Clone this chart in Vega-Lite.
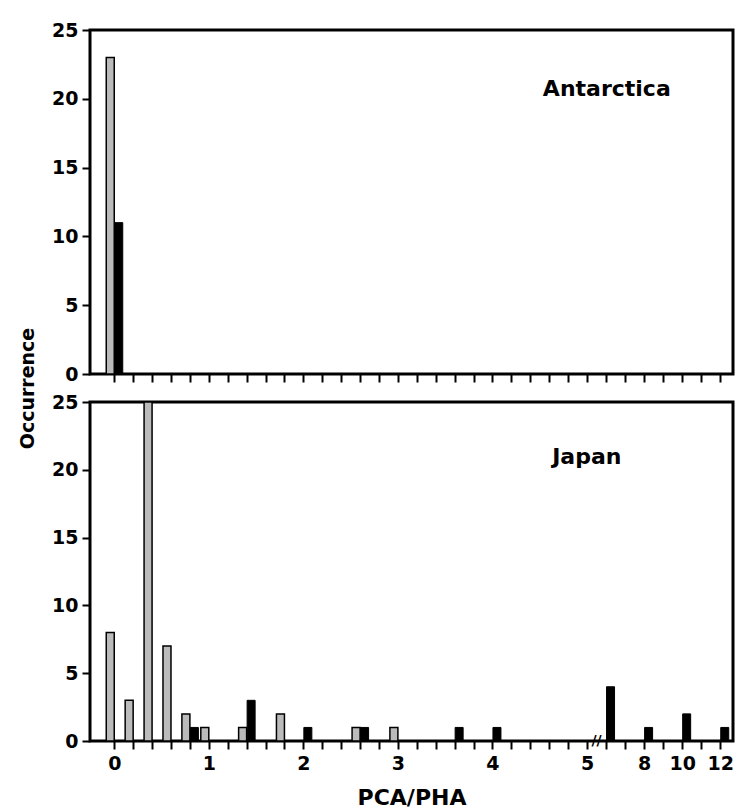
{
  "$schema": "https://vega.github.io/schema/vega-lite/v6.json",
  "background": "white",
  "padding": {"left": 16, "top": 19, "right": 2, "bottom": 0},
  "bounds": "flush",
  "spacing": 28,
  "config": {
    "view": {"stroke": "black", "strokeWidth": 3},
    "axis": {
      "domain": false,
      "grid": false,
      "tickColor": "black",
      "tickWidth": 2,
      "tickSize": 8,
      "labelFont": "DejaVu Sans",
      "labelFontWeight": "bold",
      "labelColor": "black",
      "titleFont": "DejaVu Sans",
      "titleFontWeight": "bold",
      "titleColor": "black"
    }
  },
  "datasets": {
    "bars": [
      {"region": "Antarctica", "type": "open", "ratio": 0, "count": 23},
      {"region": "Antarctica", "type": "solid", "ratio": 0, "count": 11},
      {"region": "Japan", "type": "open", "ratio": 0, "count": 8},
      {"region": "Japan", "type": "open", "ratio": 0.2, "count": 3},
      {"region": "Japan", "type": "open", "ratio": 0.4, "count": 25},
      {"region": "Japan", "type": "open", "ratio": 0.6, "count": 7},
      {"region": "Japan", "type": "open", "ratio": 0.8, "count": 2},
      {"region": "Japan", "type": "open", "ratio": 1.0, "count": 1},
      {"region": "Japan", "type": "open", "ratio": 1.4, "count": 1},
      {"region": "Japan", "type": "open", "ratio": 1.8, "count": 2},
      {"region": "Japan", "type": "open", "ratio": 2.6, "count": 1},
      {"region": "Japan", "type": "open", "ratio": 3.0, "count": 1},
      {"region": "Japan", "type": "solid", "ratio": 0.8, "count": 1},
      {"region": "Japan", "type": "solid", "ratio": 1.4, "count": 3},
      {"region": "Japan", "type": "solid", "ratio": 2.0, "count": 1},
      {"region": "Japan", "type": "solid", "ratio": 2.6, "count": 1},
      {"region": "Japan", "type": "solid", "ratio": 3.6, "count": 1},
      {"region": "Japan", "type": "solid", "ratio": 4.0, "count": 1},
      {"region": "Japan", "type": "solid", "ratio": 6, "count": 4},
      {"region": "Japan", "type": "solid", "ratio": 8, "count": 1},
      {"region": "Japan", "type": "solid", "ratio": 10, "count": 2},
      {"region": "Japan", "type": "solid", "ratio": 12, "count": 1}
    ]
  },
  "vconcat": [
    {
      "width": 643,
      "height": 344,
      "layer": [
        {
          "data": {"name": "bars"},
          "transform": [{"filter": "datum.region === 'Antarctica' && datum.type === 'open'"}],
          "mark": {"type": "bar", "size": 8, "xOffset": -4, "fill": "#bbbbbb", "stroke": "black", "strokeWidth": 1.5},
          "encoding": {
            "x": {
              "field": "ratio", "type": "quantitative",
              "scale": {"domain": [-0.156, 5, 12.57], "range": [0, 497, 643], "zero": false, "nice": false},
              "axis": {
                "values": [0,0.2,0.4,0.6,0.8,1,1.2,1.4,1.6,1.8,2,2.2,2.4,2.6,2.8,3,3.2,3.4,3.6,3.8,4,4.2,4.4,4.6,4.8,5,6,7,8,9,10,11,12],
                "tickCount": 40,
                "labels": false, "title": null
              }
            },
            "y": {
              "field": "count", "type": "quantitative",
              "scale": {"domain": [0, 25], "nice": false},
              "axis": {
                "values": [0, 5, 10, 15, 20, 25],
                "labelFontSize": 19, "labelPadding": 4,
                "title": "Occurrence", "titleFontSize": 19,
                "titleAngle": 270, "titleX": -57, "titleY": 358,
                "titleAlign": "center", "titleBaseline": "alphabetic"
              }
            }
          }
        },
        {
          "data": {"name": "bars"},
          "transform": [{"filter": "datum.region === 'Antarctica' && datum.type === 'solid'"}],
          "mark": {"type": "bar", "size": 8, "xOffset": 4.5, "fill": "black", "stroke": "black", "strokeWidth": 1},
          "encoding": {
            "x": {"field": "ratio", "type": "quantitative"},
            "y": {"field": "count", "type": "quantitative"}
          }
        },
        {
          "data": {"values": [{"label": "Antarctica"}]},
          "mark": {"type": "text", "align": "right", "baseline": "alphabetic", "font": "DejaVu Sans", "fontWeight": "bold", "fontSize": 22, "color": "black"},
          "encoding": {
            "x": {"datum": 9.4},
            "y": {"datum": 20.2},
            "text": {"field": "label"}
          }
        }
      ]
    },
    {
      "width": 643,
      "height": 339,
      "layer": [
        {
          "data": {"name": "bars"},
          "transform": [{"filter": "datum.region === 'Japan' && datum.type === 'open'"}],
          "mark": {"type": "bar", "size": 8, "xOffset": -4, "fill": "#bbbbbb", "stroke": "black", "strokeWidth": 1.5},
          "encoding": {
            "x": {
              "field": "ratio", "type": "quantitative",
              "scale": {"domain": [-0.156, 5, 12.57], "range": [0, 497, 643], "zero": false, "nice": false},
              "axis": {
                "values": [0,0.2,0.4,0.6,0.8,1,1.2,1.4,1.6,1.8,2,2.2,2.4,2.6,2.8,3,3.2,3.4,3.6,3.8,4,4.2,4.4,4.6,4.8,5,6,7,8,9,10,11,12],
                "tickCount": 40,
                "labelExpr": "indexof([0,1,2,3,4,5,8,10,12], datum.value) >= 0 ? '' + datum.value : ''",
                "labelFontSize": 19, "labelPadding": 5, "labelFlush": false, "labelOverlap": false,
                "title": "PCA/PHA", "titleFontSize": 22, "titlePadding": 14
              }
            },
            "y": {
              "field": "count", "type": "quantitative",
              "scale": {"domain": [0, 25], "nice": false},
              "axis": {"values": [0, 5, 10, 15, 20, 25], "labelFontSize": 19, "labelPadding": 4, "title": null}
            }
          }
        },
        {
          "data": {"name": "bars"},
          "transform": [{"filter": "datum.region === 'Japan' && datum.type === 'solid'"}],
          "mark": {"type": "bar", "size": 8, "xOffset": 4.5, "fill": "black", "stroke": "black", "strokeWidth": 1},
          "encoding": {
            "x": {"field": "ratio", "type": "quantitative"},
            "y": {"field": "count", "type": "quantitative"}
          }
        },
        {
          "data": {"values": [{"label": "Japan"}]},
          "mark": {"type": "text", "align": "right", "baseline": "alphabetic", "font": "DejaVu Sans", "fontWeight": "bold", "fontSize": 22, "color": "black"},
          "encoding": {
            "x": {"datum": 6.81},
            "y": {"datum": 20.4},
            "text": {"field": "label"}
          }
        },
        {
          "data": {"values": [{"mark": "//"}]},
          "mark": {"type": "text", "align": "center", "baseline": "middle", "font": "DejaVu Sans", "fontWeight": "bold", "fontSize": 14, "color": "black"},
          "encoding": {
            "x": {"datum": 5.5},
            "y": {"datum": 0},
            "text": {"field": "mark"}
          }
        }
      ]
    }
  ]
}
